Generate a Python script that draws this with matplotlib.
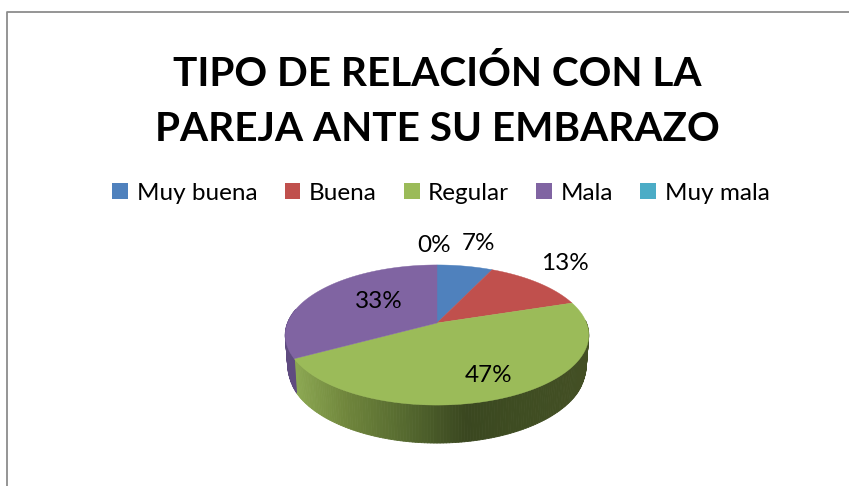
import numpy as np
import matplotlib.pyplot as plt
from matplotlib.collections import PolyCollection
from matplotlib.colors import LinearSegmentedColormap
from matplotlib.patches import Patch

plt.rcParams['font.family'] = ['Lato', 'DejaVu Sans']

categories = ["Muy buena", "Buena", "Regular", "Mala", "Muy mala"]
values = [7, 13, 47, 33, 0]
colors = ["#4f81bd", "#c0504d", "#9bbb59", "#8064a2", "#4bacc6"]
title = "TIPO DE RELACIÓN CON LA\nPAREJA ANTE SU EMBARAZO"

# pie geometry, in pixels of the figure
cx, cy = 437, 323
rx, ry = 149.5, 68
k = 0.1714      # perspective
bottom_scale = 0.985
label_pos = [(479, 243), (565, 263), (489, 375), (379, 301), (434, 245)]


def project(theta):
    # theta in degrees, clockwise from the top
    u = np.sin(np.radians(theta))
    v = np.cos(np.radians(theta))
    den = 1 + k * v
    return cx + rx * u / den, cy - ry * v / den


def project_bottom(theta):
    # lower rim: a bit narrower, and the side gets thinner towards the back
    v = np.cos(np.radians(theta))
    x, y = project(theta)
    depth = np.interp(v, [-1, -0.48, -0.17, 0, 0.3], [38, 34, 28, 24, 18])
    return cx + bottom_scale * (x - cx), y + depth


fig = plt.figure(figsize=(8.49, 4.86), dpi=100)
ax = fig.add_axes([0, 0, 1, 1])
ax.set_xlim(0, 849)
ax.set_ylim(486, 0)
ax.axis("off")

# chart frame, cut by the image on the right and bottom
ax.plot([7.5, 7.5, 849], [486, 12, 12], color="#8c8c8c", lw=1.3)

shares = 360 * np.array(values) / sum(values)
edges = np.concatenate([[0], np.cumsum(shares)])

# side of the pie
green_side = LinearSegmentedColormap.from_list(
    "green_side", ["#90ad55", "#6f853c", "#55692f", "#3a4720", "#3f4d22", "#434f24"])
quads = []
quad_colors = []
angles = np.arange(88, 283, 1.0)
for a, b in zip(angles[:-1], angles[1:]):
    xa, ya = project(a)
    xb, yb = project(b)
    xa2, ya2 = project_bottom(a)
    xb2, yb2 = project_bottom(b)
    quads.append([(xa, ya), (xb, yb), (xb2, yb2), (xa2, ya2)])
    if b <= edges[3]:
        quad_colors.append(green_side((xa - (cx - rx)) / (2 * rx)))
    else:
        quad_colors.append("#5f4b80")
ax.add_collection(PolyCollection(quads, facecolors=quad_colors,
                                 edgecolors=quad_colors, linewidths=0.6))

# top of the pie
for start, end, col in zip(edges[:-1], edges[1:], colors):
    if end <= start:
        continue
    th = np.linspace(start, end, 200)
    x, y = project(th)
    ax.fill(np.r_[cx, x], np.r_[cy, y], color=col, lw=0.3)

for (lx, ly), val in zip(label_pos, values):
    ax.text(lx, ly, f"{val}%", ha="center", va="center", fontsize=17.5, color="black")

ax.text(437, 101, title, ha="center", va="center", fontsize=29.2, fontweight="bold",
        color="black", linespacing=1.6)

handles = [Patch(facecolor=c, edgecolor="none") for c in colors]
ax.legend(handles, categories, loc="center", bbox_to_anchor=(441, 193),
          bbox_transform=ax.transData, ncol=5, frameon=False, fontsize=17.5,
          handlelength=0.65, handleheight=0.65, handletextpad=0.35,
          columnspacing=1.12, borderpad=0)

fig.savefig("out.png", dpi=100)
